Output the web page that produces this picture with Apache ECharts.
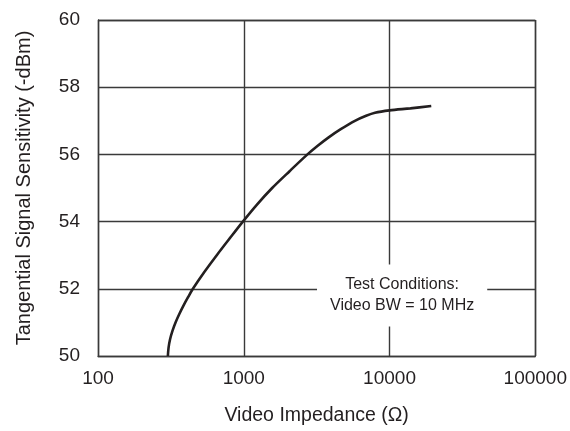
<!DOCTYPE html>
<html>
<head>
<meta charset="utf-8">
<script src="https://cdn.jsdelivr.net/npm/echarts@6/dist/echarts.min.js"></script>
<style>
  html, body { margin: 0; padding: 0; background: #fff; overflow: hidden; }
  #chart { width: 570px; height: 431px; }
</style>
</head>
<body>
<div id="chart"></div>
<script>
// Video impedance (ohms) and tangential signal sensitivity (-dBm)
var impedance = [301.5, 304.9, 312.2, 324.2, 340.4, 361.3, 385.8, 414.8, 447.8, 536.3, 652.7, 800.7, 985.6, 1228, 1566, 2062, 2735, 3200, 3803, 4628, 5787, 6907, 7948, 10000, 13900, 19330];
var tss       = [50.0, 50.25, 50.5, 50.75, 51.0, 51.25, 51.5, 51.75, 52.0, 52.5, 53.0, 53.5, 54.0, 54.5, 55.0, 55.5, 56.0, 56.25, 56.5, 56.75, 57.0, 57.15, 57.24, 57.31, 57.37, 57.44];

var xTicks = [100, 1000, 10000, 100000];
var yTicks = [50, 52, 54, 56, 58, 60];

var noteText = ['Test Conditions:', 'Video BW = 10 MHz'];
var notePos = [12200, 51.8];

var FONT = '"Liberation Sans", Arial, sans-serif';
var INK = '#231f20';
var GRID = '#3a3a3a';

var curve = impedance.map(function (v, i) { return [v, tss[i]]; });

var chart = echarts.init(document.getElementById('chart'), null, { renderer: 'canvas', width: 570, height: 431 });
chart.setOption({
  backgroundColor: '#fff',
  animation: false,
  grid: { left: 98, top: 20, width: 440, height: 341.5, containLabel: false },
  xAxis: {
    type: 'log',
    logBase: 10,
    min: xTicks[0],
    max: xTicks[xTicks.length - 1],
    name: 'Video Impedance (Ω)',
    nameLocation: 'middle',
    nameGap: 50,
    nameTextStyle: { fontFamily: FONT, fontSize: 19.5, color: INK },
    axisLine: { show: true, lineStyle: { color: GRID, width: 1.4 } },
    axisTick: { show: false },
    axisLabel: {
      fontFamily: FONT, fontSize: 19, color: INK, margin: 13,
      formatter: function (v) { return String(Math.round(v)); }
    },
    splitLine: { show: true, lineStyle: { color: GRID, width: 1.4 } },
    minorSplitLine: { show: false }
  },
  yAxis: {
    type: 'value',
    min: yTicks[0],
    max: yTicks[yTicks.length - 1],
    interval: 2,
    name: 'Tangential Signal Sensitivity (-dBm)',
    nameLocation: 'middle',
    nameGap: 64,
    nameTextStyle: { fontFamily: FONT, fontSize: 20, color: INK },
    axisLine: { show: true, lineStyle: { color: GRID, width: 1.4 } },
    axisTick: { show: false },
    axisLabel: { fontFamily: FONT, fontSize: 19, color: INK, margin: 18 },
    splitLine: { show: true, lineStyle: { color: GRID, width: 1.4 } }
  },
  series: [
    {
      type: 'line',
      data: curve,
      smooth: 0.3,
      symbol: 'none',
      lineStyle: { color: INK, width: 2.6 },
      z: 3
    },
    {
      type: 'scatter',
      data: [notePos],
      symbolSize: 0,
      silent: true,
      itemStyle: { opacity: 1 },
      z: 4,
      label: {
        show: true,
        position: 'inside',
        formatter: noteText.join('\n'),
        fontFamily: FONT,
        fontSize: 16,
        lineHeight: 21,
        color: INK,
        align: 'center',
        backgroundColor: '#fff',
        padding: [10, 13, 10, 13]
      }
    },
    // right and top frame edges
    {
      type: 'line',
      data: [],
      markLine: {
        silent: true,
        symbol: 'none',
        label: { show: false },
        lineStyle: { color: GRID, width: 1.4, type: 'solid' },
        data: [{ xAxis: xTicks[xTicks.length - 1] }, { yAxis: yTicks[yTicks.length - 1] }]
      }
    }
  ]
});
</script>
</body>
</html>
